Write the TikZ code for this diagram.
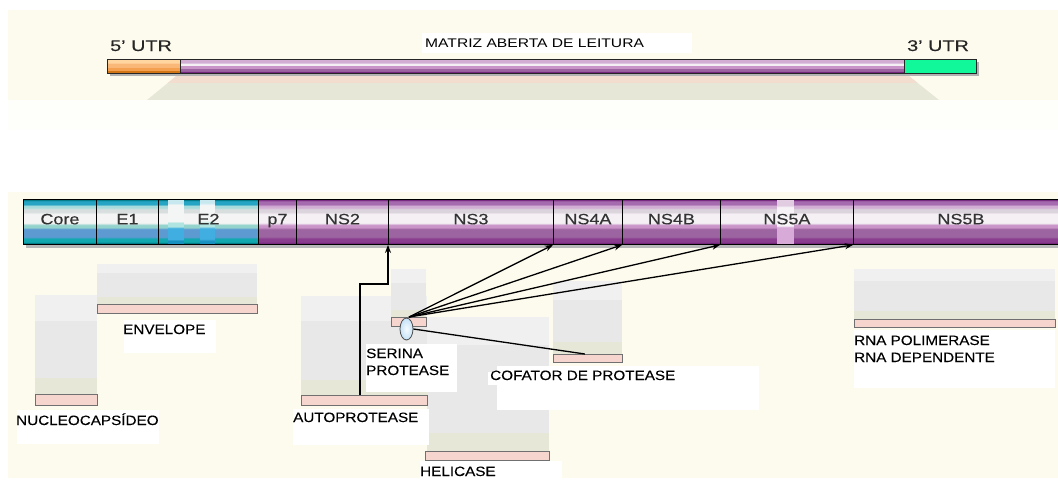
\documentclass[tikz,border=0pt]{standalone}
\usepackage{fontspec}
\setmainfont{Liberation Sans}
\newfontfamily\barfont[FakeStretch=1.2,FakeBold=0.4]{Liberation Sans}
\newfontfamily\lblfont[FakeStretch=1.13,FakeBold=0.15]{Liberation Sans}
\newfontfamily\topfont[FakeStretch=1.28,FakeBold=0.3]{Liberation Sans}
\newfontfamily\orffont[FakeStretch=1.25]{Liberation Sans}
\usetikzlibrary{shapes.geometric,arrows.meta}
% colours
\definecolor{creamA}{HTML}{FDFAEE}
\definecolor{creamB}{HTML}{FEFEFA}
\definecolor{trapP}{HTML}{F2DDCF}
\definecolor{trapG}{HTML}{E7E7D7}
\definecolor{panL}{HTML}{F0F0F0}
\definecolor{panM}{HTML}{E8E8E8}
\definecolor{panG}{HTML}{E6E7D7}
\definecolor{pinkF}{HTML}{F6D5CE}
\definecolor{pinkD}{HTML}{707070}
\definecolor{ellF}{HTML}{C4E2F8}
\definecolor{utrG}{HTML}{10F89A}
\definecolor{tD}{HTML}{007A84}
\definecolor{tC}{HTML}{26A4C4}
\definecolor{tLT}{HTML}{A8DCDC}
\definecolor{tG}{HTML}{D8DEDE}
\definecolor{tW}{HTML}{F4F4F4}
\definecolor{tLTb}{HTML}{94D2CC}
\definecolor{tB}{HTML}{5E9AD2}
\definecolor{tT}{HTML}{12A8B0}
\definecolor{pD}{HTML}{74267C}
\definecolor{pC}{HTML}{A66AAE}
\definecolor{pLT}{HTML}{D2AED4}
\definecolor{pG}{HTML}{DCD4DC}
\definecolor{pW}{HTML}{F4F0F4}
\definecolor{pLTb}{HTML}{C994C8}
\definecolor{pB}{HTML}{9C64A0}
\definecolor{pT}{HTML}{8A3C8E}
\definecolor{oA}{HTML}{FFD5A0}
\definecolor{oB}{HTML}{F9B878}
\definecolor{oC}{HTML}{F5A050}
\definecolor{oD}{HTML}{D27514}
\definecolor{sD}{HTML}{1890C0}
\definecolor{sB}{HTML}{40AEE0}
\definecolor{sL}{HTML}{B0E4E0}
\definecolor{sW}{HTML}{F4F6F6}
\definecolor{sT}{HTML}{C8E8F0}
\definecolor{nB}{HTML}{D8AAD8}
\definecolor{nW}{HTML}{F6F2F6}
\definecolor{nT}{HTML}{E2CCE2}
% shadings (bottom 25bp .. top 75bp)
\pgfdeclareverticalshading{tealbar}{100bp}{color(0bp)=(tD); color(25bp)=(tD); color(26.5bp)=(tD); color(28bp)=(tT); color(31.5bp)=(tT); color(33.5bp)=(tB); color(42bp)=(tB); color(44bp)=(tLTb); color(46.5bp)=(tLTb); color(49bp)=(tW); color(59bp)=(tW); color(61bp)=(tG); color(64bp)=(tG); color(66bp)=(tLT); color(68bp)=(tLT); color(69.5bp)=(tC); color(73bp)=(tC); color(74.5bp)=(tD); color(100bp)=(tD)}
\pgfdeclareverticalshading{purplebar}{100bp}{color(0bp)=(pD); color(25bp)=(pD); color(26.5bp)=(pD); color(28bp)=(pT); color(31.5bp)=(pT); color(33.5bp)=(pB); color(42bp)=(pB); color(44bp)=(pLTb); color(46.5bp)=(pLTb); color(49bp)=(pW); color(59bp)=(pW); color(61bp)=(pG); color(64bp)=(pG); color(66bp)=(pLT); color(68bp)=(pLT); color(69.5bp)=(pC); color(73bp)=(pC); color(74.5bp)=(pD); color(100bp)=(pD)}
\pgfdeclareverticalshading{topbar}{100bp}{color(0bp)=(pD); color(25bp)=(pD); color(32bp)=(pD); color(34bp)=(pB); color(42bp)=(pB); color(44bp)=(pLTb); color(52bp)=(pLTb); color(54bp)=(pW); color(61bp)=(pW); color(63bp)=(pLT); color(75bp)=(pLT); color(100bp)=(pLT)}
\pgfdeclareverticalshading{orbar}{100bp}{color(0bp)=(oD); color(25bp)=(oD); color(34bp)=(oD); color(36bp)=(oC); color(46bp)=(oC); color(48bp)=(oB); color(61bp)=(oB); color(63bp)=(oA); color(100bp)=(oA)}
\pgfdeclareverticalshading{e2s}{100bp}{color(0bp)=(sD); color(25bp)=(sD); color(29bp)=(sD); color(31bp)=(sB); color(43bp)=(sB); color(45bp)=(sL); color(49bp)=(sL); color(51bp)=(sW); color(69bp)=(sW); color(71bp)=(sT); color(100bp)=(sT)}
\pgfdeclareverticalshading{n5s}{100bp}{color(0bp)=(nB); color(44bp)=(nB); color(46bp)=(nW); color(66.5bp)=(nW); color(68.5bp)=(nT); color(100bp)=(nT)}
\newcommand\panelbox[6]{%
  \fill[panL] (#1,#2) rectangle (#3,#5);
  \fill[panM] (#1,#5) rectangle (#3,#6);
  \fill[panG] (#1,#6) rectangle (#3,#4);}
\tikzset{
  seg/.style={draw=black, line width=0.9pt, minimum height=45pt, inner sep=0pt, anchor=north west,
    font=\barfont\fontsize{15}{15}\selectfont, text=black!80, text height=11pt, text depth=6.3pt},
  tealseg/.style={seg, shade, shading=tealbar},
  purpseg/.style={seg, shade, shading=purplebar},
  topseg/.style={draw=black!85, line width=0.9pt, minimum height=14pt, inner sep=0pt, anchor=north west},
  pinkbar/.style={draw=pinkD, fill=pinkF, line width=0.8pt, inner sep=0pt, anchor=north west},
  lbl/.style={anchor=base west, inner sep=0pt, font=\lblfont\fontsize{13.5}{13.5}\selectfont, text=black},
  toplbl/.style={anchor=base west, inner sep=0pt, font=\topfont\fontsize{15.5}{15.5}\selectfont, text=black!85},
  conn/.style={draw=black, line width=1.3pt, -{Stealth[length=8pt,width=6pt]}},
  link/.style={draw=black, line width=1.3pt},
  whitebox/.style={fill=white}
}
\begin{document}
\begin{tikzpicture}[x={(1pt,0pt)}, y={(0pt,-1pt)}]
\useasboundingbox (0,0) rectangle (1058,480);
\fill[white] (0,0) rectangle (1058,480);
% backgrounds
\fill[creamA] (8,10) rectangle (1058,100);
\fill[creamB] (8,100) rectangle (1058,130);
\fill[creamA] (8,192) rectangle (1058,478);
% trapezoid under top bar
\begin{scope}
  \clip (180,73) -- (905,73) -- (939,100) -- (147,100) -- cycle;
  \fill[trapG] (100,73) rectangle (1000,100);
  \fill[trapP] (100,73) rectangle (1000,83);
\end{scope}
% top bar
\fill[black!30] (110,62) rectangle (979,76);
\node[topseg, shade, shading=orbar, minimum width=73pt] (utr5bar) at (107,59) {};
\node[topseg, shade, shading=topbar, minimum width=724pt] (orfbar) at (180,59) {};
\node[topseg, fill=utrG, minimum width=72pt] (utr3bar) at (904,59) {};
\fill[white] (422,33) rectangle (692,53);
\node[anchor=base west, inner sep=0pt, font=\orffont\fontsize{12.5}{12.5}\selectfont, text=black] (orf) at (425,47) {MATRIZ ABERTA DE LEITURA};
\node[toplbl] (utr5) at (110,51) {5’ UTR};
\node[toplbl] (utr3) at (907,51) {3’ UTR};
% lower bar
\fill[black!28] (26,203) rectangle (1058,248);
\node[tealseg, minimum width=73pt] (core) at (23,199) {Core};
\node[tealseg, minimum width=62pt] (e1) at (96,199) {E1};
\node[tealseg, minimum width=100pt, path picture={
   \shade[shading=e2s] ([xshift=10pt]path picture bounding box.north west) rectangle ([xshift=25pt]path picture bounding box.south west);
   \shade[shading=e2s] ([xshift=42pt]path picture bounding box.north west) rectangle ([xshift=56pt]path picture bounding box.south west);}] (e2) at (158,199) {E2};
\node[purpseg, minimum width=38pt] (p7) at (258,199) {p7};
\node[purpseg, minimum width=92pt] (ns2) at (296,199) {NS2};
\node[purpseg, minimum width=165pt] (ns3) at (388,199) {NS3};
\node[purpseg, minimum width=69pt] (ns4a) at (553,199) {NS4A};
\node[purpseg, minimum width=98pt] (ns4b) at (622,199) {NS4B};
\node[purpseg, minimum width=133pt, path picture={
   \shade[shading=n5s] ([xshift=57pt]path picture bounding box.north west) rectangle ([xshift=73pt]path picture bounding box.south west);}] (ns5a) at (720,199) {NS5A};
\node[purpseg, minimum width=215pt] (ns5b) at (853,199) {NS5B};
% grey panels
\panelbox{35}{295}{97}{394}{321}{378}
\panelbox{97}{264}{257}{304}{273}{297}
\panelbox{301}{296}{427}{395}{321}{380}
\panelbox{391}{269}{426}{317}{283}{310}
\panelbox{427}{317}{549}{451}{345}{433}
\panelbox{553}{281}{622}{354}{300}{342}
\panelbox{854}{269}{1055}{319}{281}{311}
% white label boxes
\fill[whitebox] (124,320) rectangle (216,353);
\fill[whitebox] (17,410) rectangle (159,444);
\fill[whitebox] (366,344) rectangle (457,392);
\fill[whitebox] (293,409) rectangle (429,445);
\fill[whitebox] (420,461) rectangle (562,480);
\fill[whitebox] (497,366) rectangle (759,410);
\fill[whitebox] (488,372) rectangle (497,385);
\fill[whitebox] (854,330) rectangle (1055,388);
% pink bars
\node[pinkbar, minimum width=62pt, minimum height=11pt] (nucbar) at (35,394) {};
\node[pinkbar, minimum width=160pt, minimum height=9pt] (envbar) at (97,304) {};
\node[pinkbar, minimum width=35pt, minimum height=9pt] (serbar) at (391,317) {};
\node[pinkbar, minimum width=126pt, minimum height=10pt] (autobar) at (301,395) {};
\node[pinkbar, minimum width=124pt, minimum height=9pt] (helbar) at (425,451) {};
\node[pinkbar, minimum width=69pt, minimum height=8pt] (cofbar) at (553,354) {};
\node[pinkbar, minimum width=201pt, minimum height=8pt] (rnabar) at (854,319) {};
% labels
\node[lbl] (envt) at (123,334) {ENVELOPE};
\node[lbl] (nuct) at (16,425) {NUCLEOCAPSÍDEO};
\node[lbl] (sert1) at (366,358) {SERINA};
\node[lbl] (sert2) at (366,375) {PROTEASE};
\node[lbl] (autot) at (293,422) {AUTOPROTEASE};
\node[lbl] (helt) at (420,476) {HELICASE};
\node[lbl] (coft) at (490,380) {COFATOR DE PROTEASE};
\node[lbl] (rnat1) at (854,345) {RNA POLIMERASE};
\node[lbl] (rnat2) at (854,362) {RNA DEPENDENTE};
% connectors
\coordinate (sp) at (409,317);
\draw[conn] (sp) -- (ns4a.south west);
\draw[conn] (sp) -- (ns4b.south west);
\draw[conn] (sp) -- (ns5a.south west);
\draw[conn] (sp) -- (ns5b.south west);
\coordinate (k1) at (360,284);
\draw[conn] (autobar.north -| k1) -- (k1) -- (k1 -| ns3.south west) -- (ns3.south west);
\node[ellipse, draw=black!70, line width=0.8pt, inner color=white!85!ellF, outer color=ellF, minimum width=13pt, minimum height=22pt, inner sep=0pt] (ell) at (406.5,329) {};
\draw[link] (ell.east) -- ([xshift=-3pt]cofbar.north);
\end{tikzpicture}
\end{document}
